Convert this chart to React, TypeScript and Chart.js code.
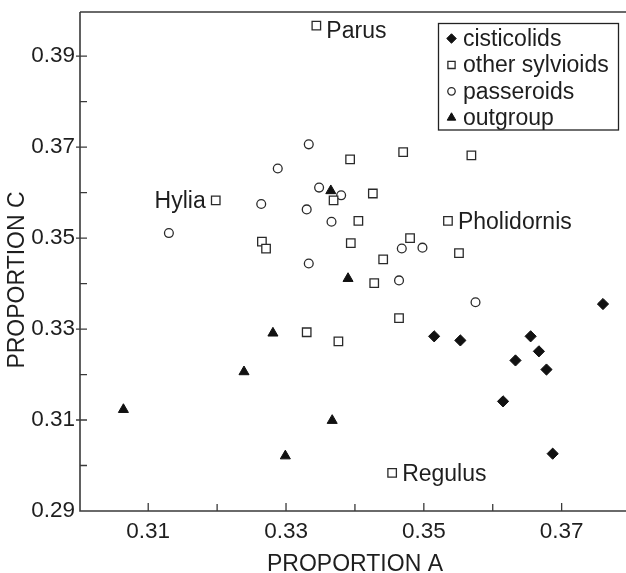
import React, { useEffect, useRef } from 'react';
import { Chart, registerables } from 'chart.js';
import { drawPoint } from 'chart.js/helpers';

Chart.register(...registerables);

// ---------- data ----------
const seriesNames = ['cisticolids', 'other sylvioids', 'passeroids', 'outgroup'];

const cisticolidsA = [0.3515, 0.3553, 0.3615, 0.3633, 0.3655, 0.3667, 0.3678, 0.3687, 0.376];
const cisticolidsC = [0.3284, 0.3275, 0.3141, 0.3231, 0.3284, 0.3251, 0.3211, 0.3026, 0.3355];

// first four are the named taxa
const sylvioidsA = [0.3344, 0.3198, 0.3535, 0.3454, 0.3265, 0.3271, 0.3393, 0.347, 0.3569, 0.3369, 0.3426, 0.3405, 0.3394, 0.348, 0.3551, 0.3441, 0.3428, 0.3464, 0.333, 0.3376];
const sylvioidsC = [0.3967, 0.3583, 0.3538, 0.2984, 0.3492, 0.3477, 0.3673, 0.3689, 0.3682, 0.3583, 0.3598, 0.3538, 0.3489, 0.35, 0.3467, 0.3453, 0.3401, 0.3324, 0.3293, 0.3273];

const passeroidsA = [0.313, 0.3264, 0.3288, 0.333, 0.3333, 0.3333, 0.3348, 0.3366, 0.338, 0.3464, 0.3468, 0.3498, 0.3575];
const passeroidsC = [0.3511, 0.3575, 0.3653, 0.3563, 0.3706, 0.3444, 0.3611, 0.3536, 0.3594, 0.3407, 0.3477, 0.3479, 0.3359];

const outgroupA = [0.3064, 0.3239, 0.3281, 0.3299, 0.3367, 0.339, 0.3365];
const outgroupC = [0.3123, 0.3206, 0.3291, 0.3021, 0.3099, 0.3411, 0.3604];

const namedTaxa = ['Parus', 'Hylia', 'Pholidornis', 'Regulus'];
const namedTaxaIndex = [0, 1, 2, 3];

const xMajorTicks = [0.31, 0.33, 0.35, 0.37];
const xMinorTicks = [0.32, 0.34, 0.36];
const yMajorTicks = [0.29, 0.31, 0.33, 0.35, 0.37, 0.39];
const yMinorTicks = [0.3, 0.32, 0.34, 0.36, 0.38];

const xTitle = 'PROPORTION A';
const yTitle = 'PROPORTION C';

// ---------- styles ----------
const FONT = 'Liberation Sans, Arial, sans-serif';
const INK = '#1e1e1e';
const AXIS = '#3a3a3a';

const toPts = (a: number[], c: number[]) => a.map((x, i) => ({ x, y: c[i] }));

const labelStyle: Record<string, { side: 'left' | 'right'; dy: number }> = {
  Parus: { side: 'right', dy: 12 },
  Hylia: { side: 'left', dy: 8 },
  Pholidornis: { side: 'right', dy: 8 },
  Regulus: { side: 'right', dy: 8 },
};

// stretch the plot area to the right edge of the canvas (the reference is cropped there)
const fullWidthPlugin = {
  id: 'fullWidth',
  afterLayout(chart: any) {
    const xs = chart.scales.x;
    const target = chart.width;
    chart.chartArea.right = target;
    chart.chartArea.width = target - chart.chartArea.left;
    xs.right = target;
    xs.width = target - xs.left;
    xs.configure();
  },
};

const framePlugin = {
  id: 'frame',
  afterDatasetsDraw(chart: any) {
    const { ctx, chartArea } = chart;
    const xs = chart.scales.x;
    const ys = chart.scales.y;
    const L = chartArea.left;
    const R = chartArea.right;
    const T = chartArea.top;
    const B = chartArea.bottom;
    ctx.save();
    // spines
    ctx.strokeStyle = AXIS;
    ctx.lineWidth = 1.6;
    ctx.beginPath();
    ctx.moveTo(L, T);
    ctx.lineTo(R, T);
    ctx.moveTo(L, T);
    ctx.lineTo(L, B);
    ctx.lineTo(R, B);
    ctx.stroke();
    // ticks
    ctx.lineWidth = 1.3;
    ctx.beginPath();
    xMajorTicks.forEach((v) => {
      const p = xs.getPixelForValue(v);
      ctx.moveTo(p, B);
      ctx.lineTo(p, B - 8);
    });
    xMinorTicks.forEach((v) => {
      const p = xs.getPixelForValue(v);
      ctx.moveTo(p, B);
      ctx.lineTo(p, B - 7);
    });
    yMajorTicks.forEach((v) => {
      if (v === 0.29) return;
      const p = ys.getPixelForValue(v);
      ctx.moveTo(L - 4, p);
      ctx.lineTo(L + 7, p);
    });
    yMinorTicks.forEach((v) => {
      const p = ys.getPixelForValue(v);
      ctx.moveTo(L, p);
      ctx.lineTo(L + 7, p);
    });
    ctx.stroke();

    // annotations
    ctx.fillStyle = INK;
    ctx.font = `23px ${FONT}`;
    ctx.textBaseline = 'alphabetic';
    namedTaxa.forEach((name, i) => {
      const k = namedTaxaIndex[i];
      const px = xs.getPixelForValue(sylvioidsA[k]);
      const py = ys.getPixelForValue(sylvioidsC[k]);
      const st = labelStyle[name];
      if (st.side === 'right') {
        ctx.textAlign = 'left';
        ctx.fillText(name, px + 10, py + st.dy);
      } else {
        ctx.textAlign = 'right';
        ctx.fillText(name, px - 10, py + st.dy);
      }
    });

    // legend
    const bx = 438.5, by = 23.5, bw = 180, bh = 106.5;
    ctx.strokeStyle = '#222';
    ctx.lineWidth = 1.3;
    ctx.strokeRect(bx, by, bw, bh);
    chart.data.datasets.forEach((ds: any, i: number) => {
      const cy = 38.5 + i * 26.4;
      ctx.save();
      ctx.fillStyle = ds.backgroundColor;
      ctx.strokeStyle = ds.borderColor;
      ctx.lineWidth = ds.borderWidth;
      drawPoint(ctx, { pointStyle: ds.pointStyle, radius: ds.pointRadius * 0.85, rotation: 0, borderWidth: ds.borderWidth }, 451.5, cy);
      ctx.restore();
      ctx.fillStyle = INK;
      ctx.textAlign = 'left';
      ctx.textBaseline = 'middle';
      ctx.fillText(ds.label, 463, cy + 1);
    });

    // axis titles
    ctx.fillStyle = INK;
    ctx.font = `23px ${FONT}`;
    ctx.textAlign = 'center';
    ctx.textBaseline = 'alphabetic';
    ctx.fillText(xTitle, 355, 571);
    ctx.translate(24, 280);
    ctx.rotate(-Math.PI / 2);
    ctx.fillText(yTitle, 0, 0);
    ctx.restore();
  },
};

export default function App() {
  const ref = useRef<HTMLCanvasElement>(null);
  useEffect(() => {
    document.body.style.margin = '0';
    const canvas = ref.current;
    if (!canvas) return;
    const tickFont = { family: FONT, size: 22.5 };
    const chart = new Chart(canvas, {
      type: 'scatter',
      data: {
        datasets: [
          {
            label: seriesNames[0],
            data: toPts(cisticolidsA, cisticolidsC),
            pointStyle: 'rectRot',
            pointRadius: 5.6,
            backgroundColor: '#111',
            borderColor: '#111',
            borderWidth: 1,
          },
          {
            label: seriesNames[1],
            data: toPts(sylvioidsA, sylvioidsC),
            pointStyle: 'rect',
            pointRadius: 6,
            backgroundColor: '#fff',
            borderColor: '#2a2a2a',
            borderWidth: 1.3,
          },
          {
            label: seriesNames[2],
            data: toPts(passeroidsA, passeroidsC),
            pointStyle: 'circle',
            pointRadius: 4.4,
            backgroundColor: '#fff',
            borderColor: '#2a2a2a',
            borderWidth: 1.3,
          },
          {
            label: seriesNames[3],
            data: toPts(outgroupA, outgroupC),
            pointStyle: 'triangle',
            pointRadius: 5.8,
            backgroundColor: '#111',
            borderColor: '#111',
            borderWidth: 1,
          },
        ] as any,
      },
      options: {
        animation: false,
        responsive: false,
        maintainAspectRatio: false,
        layout: { padding: { left: 0, right: 0, top: 12, bottom: 0 } },
        plugins: { legend: { display: false }, tooltip: { enabled: false } },
        scales: {
          x: {
            type: 'linear',
            min: 0.3001,
            max: 0.37934,
            grid: { display: false, drawTicks: false, tickLength: 0 },
            border: { display: false },
            ticks: {
              font: tickFont,
              color: INK,
              padding: 7,
              autoSkip: false,
              maxRotation: 0,
              callback: (v: any) => Number(v).toFixed(2),
            },
            afterBuildTicks: (s: any) => {
              s.ticks = xMajorTicks.map((v) => ({ value: v }));
            },
            afterFit: (s: any) => {
              s.height = 62;
              s.paddingLeft = 0;
              s.paddingRight = 0;
              s.paddingTop = 0;
              s.paddingBottom = 0;
            },
          },
          y: {
            type: 'linear',
            min: 0.29,
            max: 0.3997,
            grid: { display: false, drawTicks: false, tickLength: 0 },
            border: { display: false },
            ticks: {
              font: tickFont,
              color: INK,
              padding: 5,
              autoSkip: false,
              callback: (v: any) => Number(v).toFixed(2),
            },
            afterBuildTicks: (s: any) => {
              s.ticks = yMajorTicks.map((v) => ({ value: v }));
            },
            afterFit: (s: any) => {
              s.width = 80;
              s.paddingLeft = 0;
              s.paddingRight = 0;
              s.paddingTop = 0;
              s.paddingBottom = 0;
            },
          },
        },
      } as any,
      plugins: [fullWidthPlugin, framePlugin],
    });
    return () => chart.destroy();
  }, []);
  return <canvas ref={ref} width={626} height={573} style={{ display: 'block' }} />;
}
